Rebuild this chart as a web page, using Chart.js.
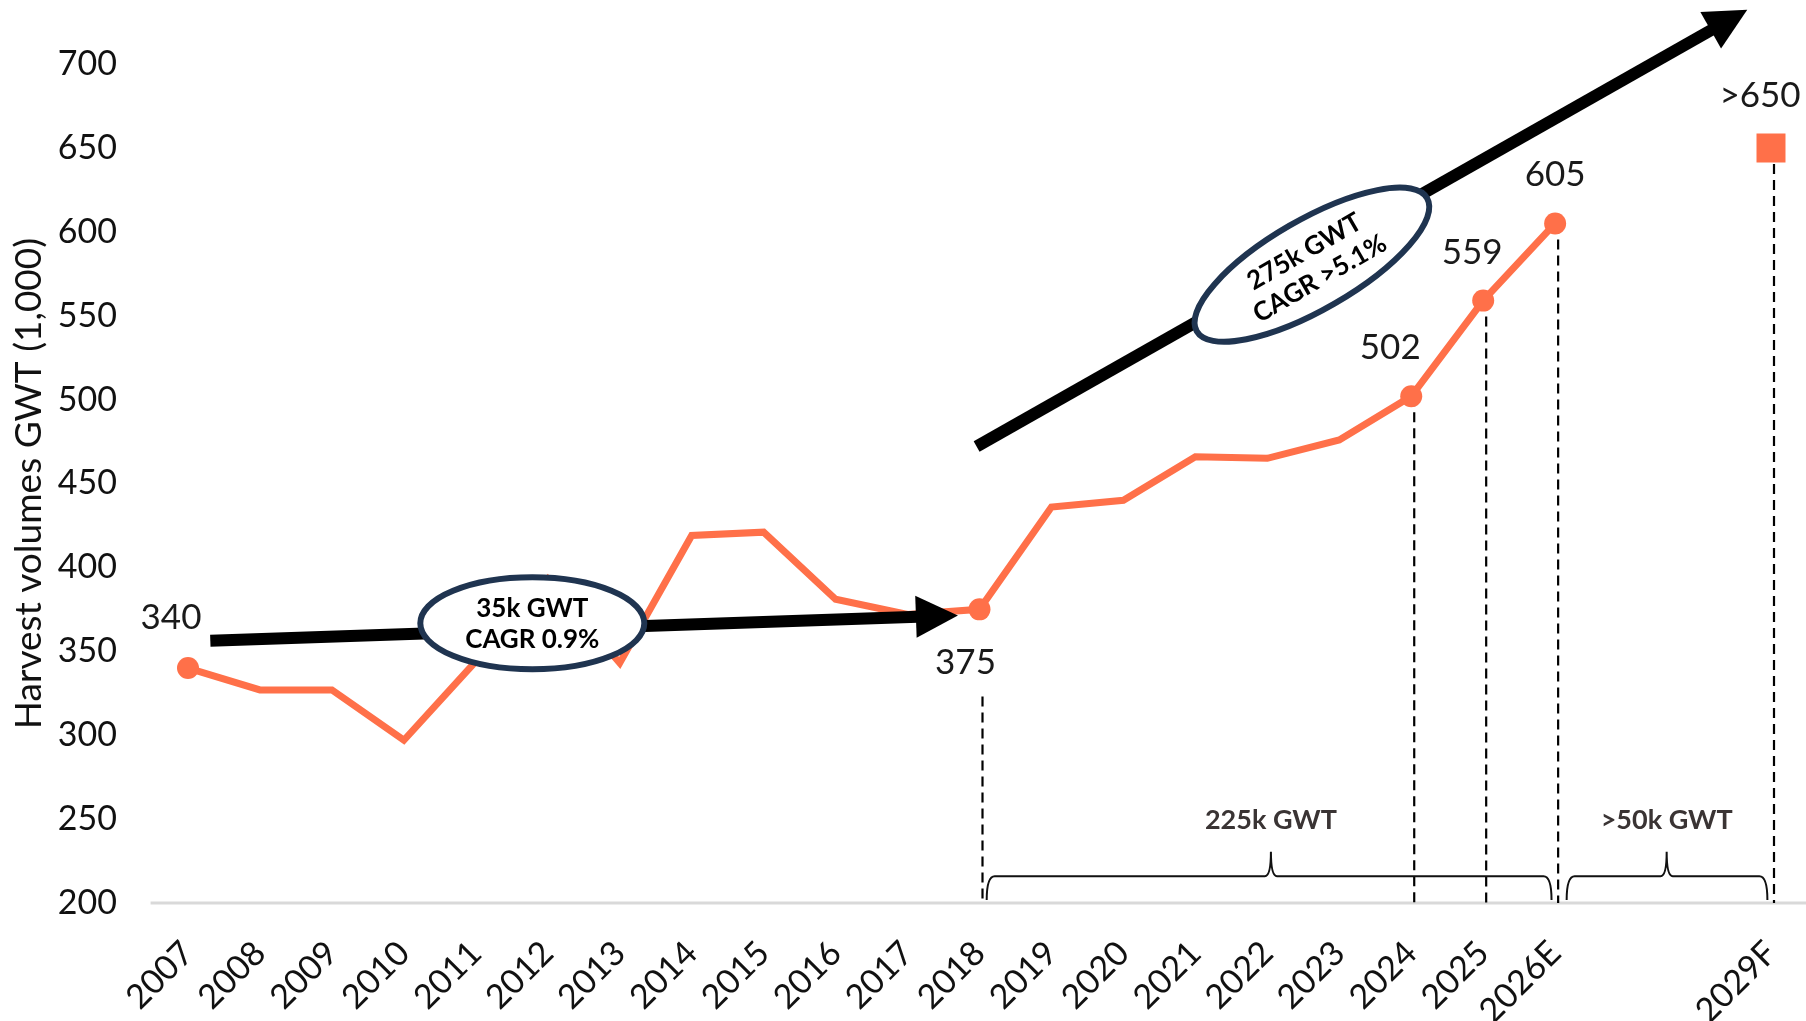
<!DOCTYPE html>
<html>
<head>
<meta charset="utf-8">
<script src="https://cdn.jsdelivr.net/npm/chart.js@4.4.1/dist/chart.umd.min.js"></script>
<style>
  html, body { margin: 0; padding: 0; background: #fff; }
  #wrap { width: 1806px; height: 1021px; }
</style>
</head>
<body>
<div id="wrap"><canvas id="harvestChart" width="1806" height="1021"></canvas></div>
<script>
  // -----------------------------
  // data
  // -----------------------------
  const years = ["2007","2008","2009","2010","2011","2012","2013","2014","2015","2016","2017",
                 "2018","2019","2020","2021","2022","2023","2024","2025","2026E","","","2029F"];
  const harvest = [340, 327, 327, 297, 344, 393, 343, 419, 421, 381, 372,
                   375, 436, 440, 466, 465, 476, 502, 559, 605, null, null, null];
  const forecast = [null, null, null, null, null, null, null, null, null, null, null,
                    null, null, null, null, null, null, null, null, null, null, null, 650];
  const markedIdx = [0, 11, 17, 18, 19];
  const valueLabels = ["340", "375", "502", "559", "605", ">650"];
  const labelIdx = [0, 11, 17, 18, 19, 22];
  const yMin = 200, yMax = 700, yStep = 50;

  const ORANGE = "#FF7049";
  const NAVY = "#1F3450";
  const FONT = "Lato, 'Open Sans', sans-serif";

  // -----------------------------
  // annotations (in axis units)
  // -----------------------------
  const labelOffsets = [[-17, -50], [-14, 53], [-21, -49], [-11, -48], [0, -49], [-11, -52]];
  const dropIdx = [11, 17, 18, 19, 22];
  const dropTop = { 11: 323 };
  const arrows = [
    { from: [0.31, 356.3], to: [10.70, 371.4] },
    { from: [10.96, 472], to: [21.67, 732.4] }
  ];
  const bubbles = [
    { at: [4.785, 366.7], rx: 112, ry: 46, rot: 0, lines: ["35k GWT", "CAGR 0.9%"] },
    { at: [15.62, 580.4], rx: 133, ry: 45, rot: -30, lines: ["275k GWT", "CAGR >5.1%"] }
  ];
  const braces = [
    { from: 11.1, to: 18.95, mid: 15.05, text: "225k GWT" },
    { from: 19.16, to: 21.95, mid: 20.55, text: ">50k GWT" }
  ];

  function arrow(ctx, x0, y0, x1, y1) {
    const ang = Math.atan2(y1 - y0, x1 - x0);
    const head = 42, hw = 21;
    const bx = x1 - head * Math.cos(ang), by = y1 - head * Math.sin(ang);
    ctx.save();
    ctx.strokeStyle = "#000";
    ctx.lineWidth = 12;
    ctx.lineCap = "butt";
    ctx.beginPath();
    ctx.moveTo(x0, y0);
    ctx.lineTo(bx + 2 * Math.cos(ang), by + 2 * Math.sin(ang));
    ctx.stroke();
    ctx.fillStyle = "#000";
    ctx.beginPath();
    ctx.moveTo(x1, y1);
    ctx.lineTo(bx - hw * Math.sin(ang), by + hw * Math.cos(ang));
    ctx.lineTo(bx + hw * Math.sin(ang), by - hw * Math.cos(ang));
    ctx.closePath();
    ctx.fill();
    ctx.restore();
  }

  const annotPlugin = {
    id: "annot",
    beforeDatasetsDraw(chart) {
      const ctx = chart.ctx;
      const x = chart.scales.x, y = chart.scales.y;
      // axis line
      ctx.save();
      ctx.strokeStyle = "#d9d9d9";
      ctx.lineWidth = 3;
      ctx.beginPath();
      ctx.moveTo(x.getPixelForValue(-0.52), y.getPixelForValue(yMin));
      ctx.lineTo(chart.width, y.getPixelForValue(yMin));
      ctx.stroke();
      // dashed drops
      ctx.strokeStyle = "#000";
      ctx.lineWidth = 2.2;
      ctx.setLineDash([10, 6]);
      dropIdx.forEach(i => {
        const v = dropTop[i] !== undefined ? dropTop[i] : (harvest[i] !== null ? harvest[i] : forecast[i]);
        const px = x.getPixelForValue(i) + 3;
        ctx.beginPath();
        ctx.moveTo(px, y.getPixelForValue(v));
        ctx.lineTo(px, y.getPixelForValue(yMin));
        ctx.stroke();
      });
      ctx.restore();
    },
    afterDatasetsDraw(chart) {
      const ctx = chart.ctx;
      const x = chart.scales.x, y = chart.scales.y;

      arrows.forEach(a => {
        arrow(ctx, x.getPixelForValue(a.from[0]), y.getPixelForValue(a.from[1]),
                   x.getPixelForValue(a.to[0]), y.getPixelForValue(a.to[1]));
      });

      bubbles.forEach(b => {
        const cx = x.getPixelForValue(b.at[0]), cy = y.getPixelForValue(b.at[1]);
        ctx.save();
        ctx.translate(cx, cy);
        ctx.rotate(b.rot * Math.PI / 180);
        ctx.beginPath();
        ctx.ellipse(0, 0, b.rx, b.ry, 0, 0, Math.PI * 2);
        ctx.fillStyle = "#fff";
        ctx.fill();
        ctx.lineWidth = 6;
        ctx.strokeStyle = NAVY;
        ctx.stroke();
        ctx.fillStyle = "#000";
        ctx.font = "bold 26px " + FONT;
        ctx.textAlign = "center";
        ctx.textBaseline = "middle";
        ctx.fillText(b.lines[0], 0, -15);
        ctx.fillText(b.lines[1], 0, 16);
        ctx.restore();
      });

      // braces
      ctx.save();
      ctx.strokeStyle = "#111";
      ctx.lineWidth = 2;
      braces.forEach(b => {
        const x0 = x.getPixelForValue(b.from), x1 = x.getPixelForValue(b.to), xm = x.getPixelForValue(b.mid);
        const yb = y.getPixelForValue(201.8), yf = y.getPixelForValue(216), yp = y.getPixelForValue(230.5);
        const r = 8, rm = 6;
        ctx.beginPath();
        ctx.moveTo(x0, yb);
        ctx.quadraticCurveTo(x0, yf, x0 + r, yf);
        ctx.lineTo(xm - rm, yf);
        ctx.quadraticCurveTo(xm, yf, xm, yp);
        ctx.quadraticCurveTo(xm, yf, xm + rm, yf);
        ctx.lineTo(x1 - r, yf);
        ctx.quadraticCurveTo(x1, yf, x1, yb);
        ctx.stroke();
        ctx.fillStyle = "#3a3434";
        ctx.font = "bold 27px " + FONT;
        ctx.textAlign = "center";
        ctx.textBaseline = "middle";
        ctx.fillText(b.text, xm, y.getPixelForValue(249.5));
      });
      ctx.restore();

      // value labels
      ctx.save();
      ctx.fillStyle = "#1a1a1a";
      ctx.font = "35px " + FONT;
      ctx.textAlign = "center";
      ctx.textBaseline = "middle";
      labelIdx.forEach((i, k) => {
        const v = harvest[i] !== null ? harvest[i] : forecast[i];
        ctx.fillText(valueLabels[k],
          x.getPixelForValue(i) + labelOffsets[k][0],
          y.getPixelForValue(v) + labelOffsets[k][1]);
      });
      ctx.restore();
    }
  };

  const ctx = document.getElementById("harvestChart").getContext("2d");
  new Chart(ctx, {
    type: "line",
    data: {
      labels: years,
      datasets: [
        {
          data: harvest,
          borderColor: ORANGE,
          backgroundColor: ORANGE,
          borderWidth: 7,
          tension: 0,
          borderJoinStyle: "miter",
          spanGaps: false,
          pointRadius: harvest.map((v, i) => markedIdx.includes(i) ? 11 : 0),
          pointHoverRadius: harvest.map((v, i) => markedIdx.includes(i) ? 11 : 0),
          pointBorderWidth: 0,
          pointBackgroundColor: ORANGE
        },
        {
          data: forecast,
          showLine: false,
          pointStyle: "rect",
          pointRadius: 20.5,
          pointHoverRadius: 20.5,
          pointBorderWidth: 0,
          pointBackgroundColor: ORANGE,
          borderColor: ORANGE
        }
      ]
    },
    options: {
      responsive: false,
      animation: false,
      events: [],
      layout: { padding: { left: 0, right: 35, top: 64, bottom: 0 } },
      plugins: { legend: { display: false }, tooltip: { enabled: false } },
      scales: {
        x: {
          type: "category",
          offset: false,
          grid: { display: false, drawTicks: false },
          border: { display: false },
          ticks: {
            autoSkip: false,
            minRotation: 45,
            maxRotation: 45,
            padding: 30,
            color: "#111",
            font: { family: FONT, size: 34 }
          },
          afterFit: s => { s.height = 118; s.paddingLeft = 0; s.paddingRight = 0; }
        },
        y: {
          min: yMin,
          max: yMax,
          grid: { display: false, drawTicks: false },
          border: { display: false },
          ticks: {
            stepSize: yStep,
            padding: 71,
            color: "#111",
            font: { family: FONT, size: 34 }
          },
          title: {
            display: true,
            text: "Harvest volumes GWT (1,000)",
            color: "#111",
            padding: { top: 7, bottom: 0 },
            font: { family: FONT, size: 37 }
          },
          afterFit: s => { s.width = 188; s.paddingTop = 0; s.paddingBottom = 0; }
        }
      }
    },
    plugins: [annotPlugin]
  });
</script>
</body>
</html>
